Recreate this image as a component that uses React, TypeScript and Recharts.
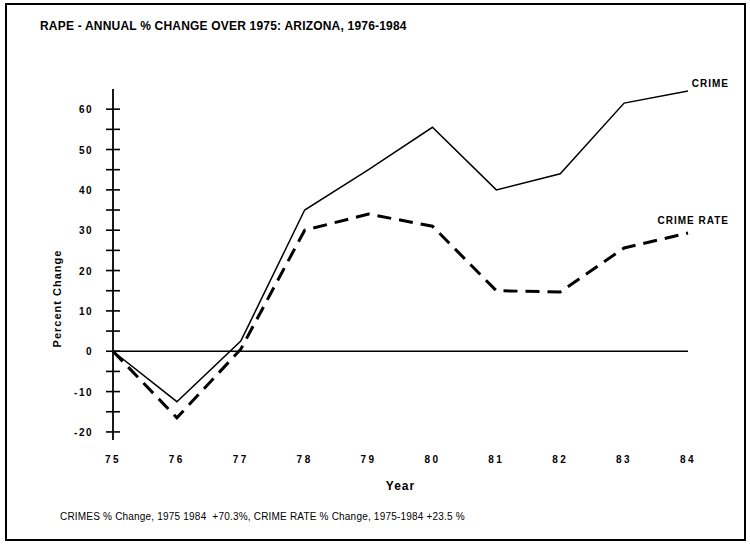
import { Label, LabelList, Line, LineChart, ReferenceLine, XAxis, YAxis } from "recharts";

const years = ["75", "76", "77", "78", "79", "80", "81", "82", "83", "84"];
const crime = [0, -12.5, 2.5, 35, 45, 55.5, 40, 44, 61.5, 64.5];
const crimeRate = [0, -16.5, 0.5, 30, 34, 31, 15, 14.7, 25.6, 29.3];
const yTicks = [-20, -15, -10, -5, 0, 5, 10, 15, 20, 25, 30, 35, 40, 45, 50, 55, 60];

const data = years.map((year, i) => ({ year, crime: crime[i], rate: crimeRate[i] }));

const font = "'Liberation Sans', Arial, sans-serif";

const YTick = ({ x, y, payload }: any) => (
  <g>
    <line x1={x - 7} x2={x + 7} y1={y} y2={y} stroke="#000" strokeWidth={1.6} />
    {payload.value % 10 === 0 && (
      <text
        x={x - 20}
        y={y}
        dy={4}
        textAnchor="end"
        fontFamily={font}
        fontWeight="bold"
        fontSize={10}
        letterSpacing={1.5}
        fill="#000"
      >
        {payload.value}
      </text>
    )}
  </g>
);

const XTick = ({ x, y, payload }: any) => (
  <text
    x={x}
    y={y}
    dy={23}
    textAnchor="middle"
    fontFamily={font}
    fontWeight="bold"
    fontSize={10}
    letterSpacing={2.5}
    fill="#000"
  >
    {payload.value}
  </text>
);

const endLabel = (text: string, dx: number, dy: number) => (props: any) => {
  const { x, y, index } = props;
  if (index !== years.length - 1) return null;
  return (
    <text
      x={x + dx}
      y={y + dy}
      textAnchor="end"
      fontFamily={font}
      fontWeight="bold"
      fontSize={10}
      letterSpacing={1}
      fill="#000"
    >
      {text}
    </text>
  );
};

export default function App() {
  return (
    <div
      style={{
        position: "absolute",
        left: 0,
        top: 0,
        width: 750,
        height: 550,
        background: "#fff",
        fontFamily: font,
      }}
    >
      <div
        style={{
          position: "absolute",
          left: 5,
          top: 3,
          width: 737,
          height: 534,
          border: "2px solid #000",
        }}
      />
      <div
        style={{
          position: "absolute",
          left: 40,
          top: 19,
          fontSize: 12,
          fontWeight: "bold",
          letterSpacing: 0.2,
          whiteSpace: "nowrap",
        }}
      >
        RAPE - ANNUAL % CHANGE OVER 1975: ARIZONA, 1976-1984
      </div>
      <div
        style={{
          position: "absolute",
          left: 60,
          top: 511,
          fontSize: 10,
          letterSpacing: 0.2,
          whiteSpace: "nowrap",
        }}
      >
        CRIMES % Change, 1975 1984 &nbsp;+70.3%, CRIME RATE % Change, 1975-1984 +23.5 %
      </div>
      <div style={{ position: "absolute", left: 0, top: 0 }}>
        <LineChart
          width={750}
          height={550}
          data={data}
          margin={{ top: 89, right: 62, bottom: 60, left: 30 }}
        >
          <XAxis
            dataKey="year"
            axisLine={false}
            tickLine={false}
            tickSize={0}
            tickMargin={0}
            height={50}
            interval={0}
            tick={<XTick />}
          >
            <Label
              content={({ viewBox }: any) => (
                <text
                  x={viewBox.x + viewBox.width / 2}
                  y={viewBox.y + 50}
                  textAnchor="middle"
                  fontFamily={font}
                  fontWeight="bold"
                  fontSize={12}
                  letterSpacing={1}
                  fill="#000"
                >
                  Year
                </text>
              )}
            />
          </XAxis>
          <YAxis
            width={83}
            domain={[-22, 65]}
            allowDataOverflow
            ticks={yTicks}
            interval={0}
            tickLine={false}
            tickSize={0}
            tickMargin={0}
            axisLine={{ stroke: "#000", strokeWidth: 1.8 }}
            tick={<YTick />}
          >
            <Label
              content={({ viewBox }: any) => {
                const cx = viewBox.x + 31;
                const cy = viewBox.y + viewBox.height / 2 + 34;
                return (
                  <text
                    x={cx}
                    y={cy}
                    transform={`rotate(-90, ${cx}, ${cy})`}
                    textAnchor="middle"
                    fontFamily={font}
                    fontWeight="bold"
                    fontSize={11}
                    letterSpacing={1}
                    fill="#000"
                  >
                    Percent Change
                  </text>
                );
              }}
            />
          </YAxis>
          <ReferenceLine y={0} stroke="#000" strokeWidth={1.5} />
          <Line
            dataKey="crime"
            type="linear"
            stroke="#000"
            strokeWidth={1.5}
            dot={false}
            isAnimationActive={false}
          >
            <LabelList dataKey="crime" content={endLabel("CRIME", 41, -4)} />
          </Line>
          <Line
            dataKey="rate"
            type="linear"
            stroke="#000"
            strokeWidth={3}
            strokeDasharray="14 8"
            dot={false}
            isAnimationActive={false}
          >
            <LabelList dataKey="rate" content={endLabel("CRIME RATE", 41, -9)} />
          </Line>
        </LineChart>
      </div>
    </div>
  );
}
